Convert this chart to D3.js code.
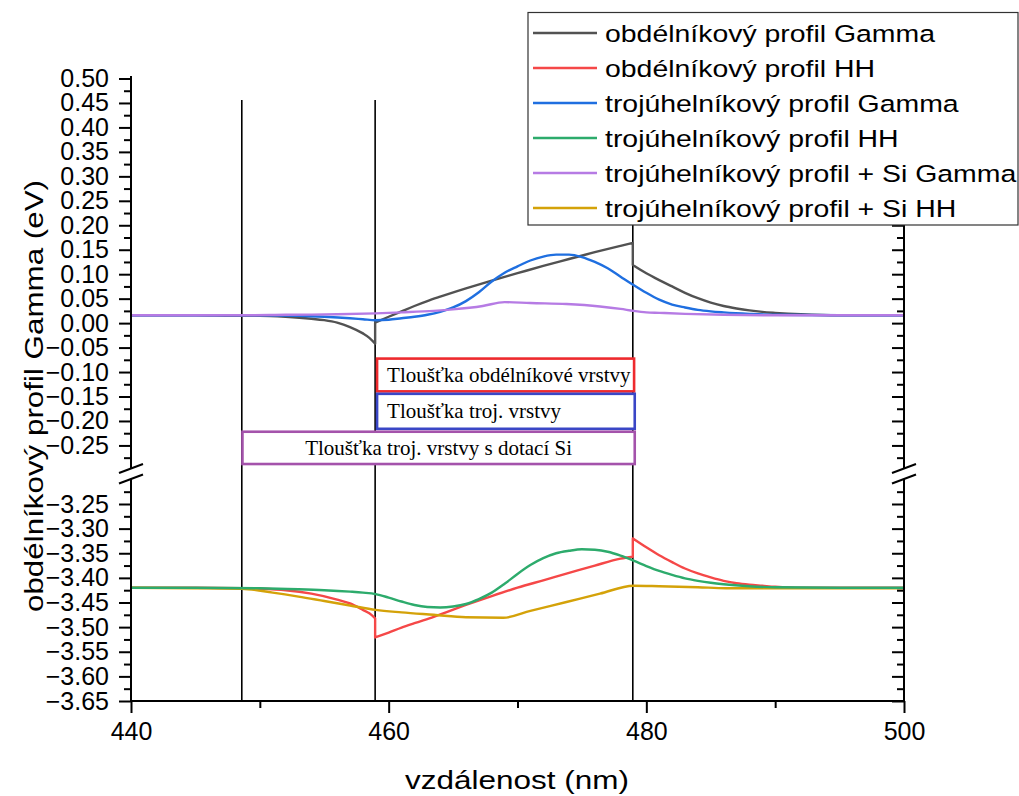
<!DOCTYPE html>
<html><head><meta charset="utf-8">
<script src="https://cdn.jsdelivr.net/npm/d3@7"></script>
<style>
body{margin:0;background:#fff}
svg{display:block}
text{font-family:'Liberation Sans',Arial,sans-serif}
</style>
</head><body>
<svg id="c" width="1019" height="796"></svg>
<script>
// ---------------- DATA ----------------
const seriesNames = [
  "obdélníkový profil Gamma",
  "obdélníkový profil HH",
  "trojúhelníkový profil Gamma",
  "trojúhelníkový profil HH",
  "trojúhelníkový profil + Si Gamma",
  "trojúhelníkový profil + Si HH"
];
const seriesColors = ["#525252", "#f54848", "#1f6fe0", "#2dab6c", "#b67be4", "#d4a209"];

// rectangular profile, Gamma (duplicate x = jump)
const rectGammaX = [440,445,448,450,452,454,455,456,457,458,458.5,458.95, 458.95,460,461,462,463,464,466,468,470,472,474,476,478,478.95, 478.95,480,481,482,483,484,485,486,487,488,489,490,492,495,500];
const rectGammaY = [0.016,0.016,0.015,0.015,0.013,0.009,0.006,0.001,-0.008,-0.021,-0.030,-0.042, 0.001,0.013,0.024,0.035,0.045,0.054,0.071,0.087,0.102,0.117,0.131,0.145,0.158,0.164, 0.119,0.102,0.088,0.075,0.062,0.051,0.042,0.035,0.030,0.026,0.023,0.021,0.018,0.016,0.016];

// rectangular profile, HH
const rectHHX = [440,445,448.6,450,452,454,456,457,458,458.5,458.95, 458.95,460,461,462,463.5,466,468,470,472,474,476,478,478.95, 478.95,480,481,482,483,484,485,486,487,488,489,490,492,495,500];
const rectHHY = [-3.420,-3.420,-3.421,-3.422,-3.425,-3.432,-3.444,-3.452,-3.465,-3.472,-3.482, -3.521,-3.511,-3.501,-3.492,-3.479,-3.455,-3.437,-3.420,-3.405,-3.390,-3.375,-3.361,-3.357, -3.320,-3.338,-3.354,-3.368,-3.381,-3.391,-3.399,-3.406,-3.411,-3.414,-3.416,-3.418,-3.420,-3.420,-3.420];

// triangular profile, Gamma
const triGammaX = [440,445,450,453,455,457,458,459,460,461,462,463,464,465,466,467,468,469,470,471,472,473,474,475,476,477,478,479,480,481,482,483,484,485,486,488,490,495,500];
const triGammaY = [0.016,0.016,0.016,0.015,0.013,0.010,0.008,0.006,0.007,0.010,0.013,0.017,0.023,0.032,0.045,0.063,0.085,0.103,0.116,0.128,0.136,0.140,0.140,0.135,0.125,0.112,0.095,0.078,0.062,0.048,0.038,0.032,0.027,0.024,0.022,0.019,0.017,0.016,0.016];

// triangular profile, HH
const triHHX = [440,445,450,453,455,457,458,459,460,461,462,463,464,465,466,467,468,469,470,471,472,473,474,475,476,477,478,479,480,481,482,483,484,485,486,488,490,495,500];
const triHHY = [-3.420,-3.420,-3.421,-3.423,-3.425,-3.428,-3.430,-3.433,-3.440,-3.448,-3.455,-3.459,-3.460,-3.458,-3.453,-3.443,-3.430,-3.412,-3.392,-3.374,-3.360,-3.350,-3.345,-3.342,-3.343,-3.347,-3.355,-3.365,-3.376,-3.386,-3.394,-3.401,-3.406,-3.410,-3.413,-3.417,-3.419,-3.420,-3.420];

// triangular profile + Si, Gamma
const triSiGammaX = [440,445,448.6,452,456,459,461,463.5,465,467.3,469,471,473.8,476.4,478,479,480,481,483,486,490,500];
const triSiGammaY = [0.016,0.016,0.016,0.017,0.018,0.020,0.022,0.025,0.028,0.035,0.043,0.041,0.039,0.034,0.029,0.025,0.022,0.021,0.019,0.017,0.016,0.016];

// triangular profile + Si, HH
const triSiHHX = [440,445,448.6,451,453,455,457,459,461,463.5,466,468.9,471,473.8,476.4,479,481,484,486.2,490,500];
const triSiHHY = [-3.420,-3.421,-3.422,-3.430,-3.438,-3.447,-3.456,-3.465,-3.470,-3.475,-3.480,-3.481,-3.467,-3.449,-3.432,-3.416,-3.417,-3.419,-3.421,-3.421,-3.421];

// layer boundaries (nm)
const layerEdges = [448.6, 458.95, 478.95];

// axis ticks
const xTicks = [440, 460, 480, 500];
const xMinorTicks = [450, 470, 490];
const yTopTicks = [0.50,0.45,0.40,0.35,0.30,0.25,0.20,0.15,0.10,0.05,0.00,-0.05,-0.10,-0.15,-0.20,-0.25];
const yTopMinor = [0.475,0.425,0.375,0.325,0.275,0.225,0.175,0.125,0.075,0.025,-0.025,-0.075,-0.125,-0.175,-0.225,-0.275];
const yBotTicks = [-3.25,-3.30,-3.35,-3.40,-3.45,-3.50,-3.55,-3.60,-3.65];
const yBotMinor = [-3.225,-3.275,-3.325,-3.375,-3.425,-3.475,-3.525,-3.575,-3.625];

// annotation boxes: label, x-extent (nm), y-extent (eV, upper panel)
const annoLabels = ["Tloušťka obdélníkové vrstvy", "Tloušťka troj. vrstvy", "Tloušťka troj. vrstvy s dotací Si"];
const annoX0 = [459.1, 459.1, 448.65];
const annoX1 = [479.05, 479.1, 479.1];
const annoYTop = [-0.0725, -0.1445, -0.222];
const annoYBot = [-0.1395, -0.216, -0.288];
const annoColors = ["#ee2a2e", "#3a46c6", "#a453ab"];

// ---------------- CHART ----------------
const svg = d3.select("#c");
const x = d3.scaleLinear([440, 500], [131, 904]);
const yTop = d3.scaleLinear([-0.29, 0.50], [465.0, 78.5]);
const yBot = d3.scaleLinear([-3.65, -3.21], [701, 484.3]);

// layer boundary lines
svg.append("g").selectAll("line").data(layerEdges).join("line")
  .attr("x1", d => x(d)).attr("x2", d => x(d))
  .attr("y1", 100).attr("y2", 700)
  .attr("stroke", "#000").attr("stroke-width", 1.6);

// curves
function pathFor(xs, ys, ys_scale) {
  const segs = []; let cur = [];
  xs.forEach((xv, i) => {
    if (i > 0 && xv === xs[i - 1]) { segs.push(cur); cur = []; }
    cur.push([xv, ys[i]]);
  });
  segs.push(cur);
  const gen = d3.line().x(d => x(d[0])).y(d => ys_scale(d[1])).curve(d3.curveMonotoneX);
  return segs.map((s, i) => i ? gen(s).replace(/^M/, "L") : gen(s)).join("");
}
const curves = [
  {xs: rectHHX, ys: rectHHY, sc: yBot, c: seriesColors[1]},
  {xs: triSiHHX, ys: triSiHHY, sc: yBot, c: seriesColors[5]},
  {xs: triHHX, ys: triHHY, sc: yBot, c: seriesColors[3]},
  {xs: rectGammaX, ys: rectGammaY, sc: yTop, c: seriesColors[0]},
  {xs: triGammaX, ys: triGammaY, sc: yTop, c: seriesColors[2]},
  {xs: triSiGammaX, ys: triSiGammaY, sc: yTop, c: seriesColors[4]}
];
svg.append("g").selectAll("path").data(curves).join("path")
  .attr("d", d => pathFor(d.xs, d.ys, d.sc))
  .attr("fill", "none").attr("stroke", d => d.c)
  .attr("stroke-width", 2.4).attr("stroke-linejoin", "round");

// annotation boxes
const anno = svg.append("g");
annoLabels.forEach((lab, i) => {
  const x0 = x(annoX0[i]), x1 = x(annoX1[i]), y0 = yTop(annoYTop[i]), y1 = yTop(annoYBot[i]);
  anno.append("rect").attr("x", x0).attr("y", y0).attr("width", x1 - x0).attr("height", y1 - y0)
    .attr("fill", "#fff").attr("stroke", annoColors[i]).attr("stroke-width", 2.6);
  const t = anno.append("text").text(lab)
    .style("font-family", "'Liberation Serif','Times New Roman',serif")
    .attr("font-size", 21).attr("fill", "#000")
    .attr("y", (y0 + y1) / 2).attr("dy", "0.33em");
  if (i < 2) t.attr("x", x0 + 10);
  else t.attr("x", (x0 + x1) / 2).attr("text-anchor", "middle");
});

// axes
function styleAxis(g) {
  g.select(".domain").remove();
  g.selectAll(".tick line").attr("stroke", "#000").attr("stroke-width", 2);
  g.selectAll(".tick text").attr("fill", "#000").attr("font-size", 25)
    .style("font-family", "'Liberation Sans',Arial,sans-serif");
}
const fmt = d3.format(".2f");
// left axis
svg.append("g").attr("transform", "translate(131,0)")
  .call(d3.axisLeft(yTop).tickValues(yTopTicks).tickSize(12).tickPadding(10).tickFormat(fmt)).call(styleAxis);
svg.append("g").attr("transform", "translate(131,0)")
  .call(d3.axisLeft(yTop).tickValues(yTopMinor).tickSize(7).tickFormat("")).call(styleAxis);
svg.append("g").attr("transform", "translate(131,0)")
  .call(d3.axisLeft(yBot).tickValues(yBotTicks).tickSize(12).tickPadding(10).tickFormat(fmt)).call(styleAxis);
svg.append("g").attr("transform", "translate(131,0)")
  .call(d3.axisLeft(yBot).tickValues(yBotMinor).tickSize(7).tickFormat("")).call(styleAxis);
// right axis (inward ticks)
[[yTop, yTopTicks, 12], [yTop, yTopMinor, 7], [yBot, yBotTicks, 12], [yBot, yBotMinor, 7]].forEach(([sc, tv, sz]) => {
  svg.append("g").attr("transform", "translate(904,0)")
    .call(d3.axisLeft(sc).tickValues(tv).tickSize(sz).tickFormat("")).call(styleAxis);
});
// bottom axis
svg.append("g").attr("transform", "translate(0,701)")
  .call(d3.axisBottom(x).tickValues(xTicks).tickSize(12).tickPadding(9).tickFormat(d3.format("d"))).call(styleAxis);
svg.append("g").attr("transform", "translate(0,701)")
  .call(d3.axisBottom(x).tickValues(xMinorTicks).tickSize(7).tickFormat("")).call(styleAxis);

// axis lines with break
const axG = svg.append("g").attr("stroke", "#000").attr("stroke-width", 2).attr("fill", "none");
[131, 904].forEach(ax => {
  axG.append("line").attr("x1", ax).attr("x2", ax).attr("y1", 76).attr("y2", 468.5);
  axG.append("line").attr("x1", ax).attr("x2", ax).attr("y1", 479).attr("y2", 702);
  axG.append("line").attr("x1", ax - 12).attr("x2", ax + 12).attr("y1", 473).attr("y2", 464);
  axG.append("line").attr("x1", ax - 12).attr("x2", ax + 12).attr("y1", 483.5).attr("y2", 474.5);
});
axG.append("line").attr("x1", 130).attr("x2", 905).attr("y1", 701).attr("y2", 701);

// axis titles
svg.append("text").text("vzdálenost (nm)")
  .attr("x", 517).attr("y", 789).attr("text-anchor", "middle")
  .attr("font-size", 26).attr("textLength", 224).attr("lengthAdjust", "spacingAndGlyphs").attr("fill", "#000");
svg.append("text").text("obdélníkový profil Gamma (eV)")
  .attr("transform", "translate(43,396) rotate(-90)").attr("text-anchor", "middle")
  .attr("font-size", 26).attr("textLength", 432).attr("lengthAdjust", "spacingAndGlyphs").attr("fill", "#000");

// legend
const leg = svg.append("g");
leg.append("rect").attr("x", 528).attr("y", 12.5).attr("width", 490).attr("height", 212.5)
  .attr("fill", "#fff").attr("stroke", "#333").attr("stroke-width", 1.2);
seriesNames.forEach((nm, i) => {
  const cy = 33 + i * 35;
  leg.append("line").attr("x1", 533).attr("x2", 597).attr("y1", cy).attr("y2", cy)
    .attr("stroke", seriesColors[i]).attr("stroke-width", 2.5);
  leg.append("text").text(nm).attr("transform", `translate(605,${cy}) scale(1.16,1)`)
    .attr("dy", "0.36em").attr("font-size", 24.5).attr("fill", "#000");
});
</script>
</body></html>
